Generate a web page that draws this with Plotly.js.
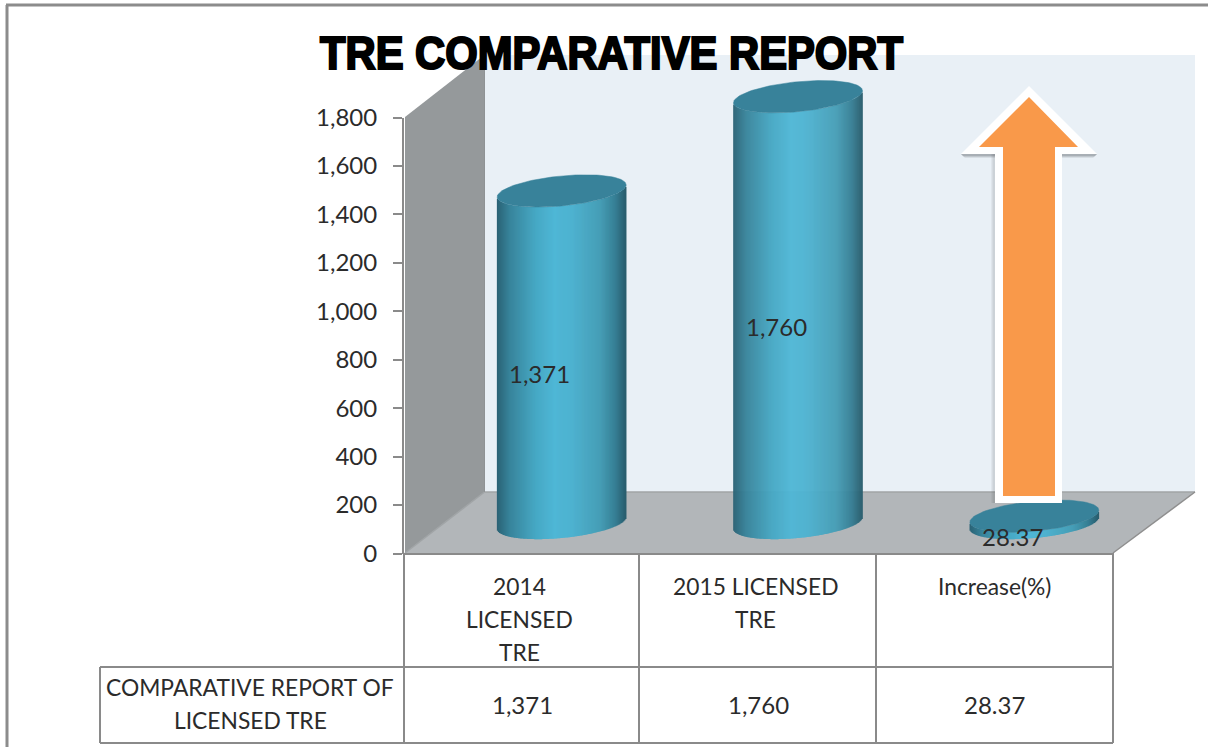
<!DOCTYPE html>
<html>
<head>
<meta charset="utf-8">
<script src="https://cdn.plot.ly/plotly-3.0.1.min.js"></script>
<style>html,body{margin:0;padding:0;background:#fff;overflow:hidden}#chart{width:1208px;height:747px}</style>
</head>
<body>
<div id="chart"></div>
<script>
// ---- data ----
const categories = ["2014 LICENSED TRE", "2015 LICENSED TRE", "Increase(%)"];
const categoryLines = [["2014", "LICENSED", "TRE"], ["2015 LICENSED", "TRE"], ["Increase(%)"]];
const values = [1371, 1760, 28.37];
const valueLabels = ["1,371", "1,760", "28.37"];
const rowHeaderLines = ["COMPARATIVE REPORT OF", "LICENSED TRE"];
const yTicks = [0, 200, 400, 600, 800, 1000, 1200, 1400, 1600, 1800];
const chartTitle = "TRE COMPARATIVE REPORT";

// ---- page geometry (decoration in pixels) ----
const W = 1208, H = 747;
const fx = x => x / W, fy = y => 1 - y / H;
const path = pts => "M" + pts.map(p => fx(p[0]) + "," + fy(p[1])).join("L") + "Z";
const poly = (pts, fill, extra) => Object.assign({
  type: "path", xref: "paper", yref: "paper", path: path(pts), fillcolor: fill,
  line: {width: 0}, layer: "below"}, extra || {});
const seg = (x0, y0, x1, y1, c, w, layer) => ({
  type: "line", xref: "paper", yref: "paper", x0: fx(x0), y0: fy(y0), x1: fx(x1), y1: fy(y1),
  line: {color: c || "#8a8a8a", width: w || 2}, layer: layer || "below"});

const X0 = 404, X1 = 1113, Y0 = 553.5, Y1 = 117.5;
const pxPerUnit = (Y0 - Y1) / 1800;
const depthX = 39.5, baseY = 523;
const barWidthPx = 129, colPx = (X1 - X0) / 3;
const barW = barWidthPx / colPx;
const rangeLow = -110, rangeHigh = 1910;

// ---- cylinders ----
const stops = [[0,[42,98,116]],[.1,[56,132,155]],[.3,[70,168,196]],[.45,[79,183,214]],[.58,[78,178,208]],[.8,[70,158,182]],[.92,[54,126,148]],[1,[40,92,108]]];
function shade(t){
  for (let i = 1; i < stops.length; i++) if (t <= stops[i][0]) {
    const a = stops[i-1], b = stops[i], k = (t-a[0])/(b[0]-a[0]);
    return "rgb(" + a[1].map((v,j)=>Math.round(v+(b[1][j]-v)*k)).join(",") + ")";
  }
  return "rgb(40,92,108)";
}
const tilt = 6, semi = 15;
const arc = u => (tilt*u - semi*Math.sqrt(Math.max(0,1-u*u))) / pxPerUnit;
const traces = [];
values.forEach((v, i) => {
  const n = barWidthPx, xs = [], base = [], ys = [], cols = [];
  for (let k = 0; k < n; k++) {
    const t = (k + .5) / n, u = 2*t - 1;
    xs.push(i + .5 + u*barW/2); base.push(arc(u)); ys.push(v); cols.push(shade(t));
  }
  traces.push({type: "bar", xaxis: "x2", yaxis: "y2", x: xs, base: base, y: ys,
    width: 1.6/colPx, marker: {color: cols, line: {width: 0}},
    name: categories[i], showlegend: false, hoverinfo: "skip"});
  const ex = [], ey = [];
  for (let k = 0; k <= 120; k++) {
    const a = k/120*2*Math.PI;
    ex.push(i + .5 + Math.cos(a)*barW/2);
    ey.push(v + (tilt*Math.cos(a) + semi*Math.sin(a))/pxPerUnit);
  }
  traces.push({type: "scatter", mode: "lines", xaxis: "x2", yaxis: "y2", x: ex, y: ey,
    fill: "toself", fillcolor: "#38829a", line: {width: 0.5, color: "#38829a"},
    showlegend: false, hoverinfo: "skip"});
});
// an invisible series keeps the front axes live
traces.unshift({type: "scatter", mode: "markers", x: [.5,1.5,2.5], y: values, xaxis: "x", yaxis: "y",
  marker: {opacity: 0}, showlegend: false, hoverinfo: "skip"});

// ---- walls, floor, table, arrow ----
const shapes = [
  poly([[484.5,55],[1195,55],[1195,492],[484.5,492]], "#e9f0f6"),
  poly([[405,117],[484.5,55],[484.5,492],[405,553]], "#95999b"),
  poly([[484.5,492],[1195,492],[1113,553],[405,553]], "#b2b6b9"),
  seg(484.5,492,1195,492,"#a0a4a6",1.5),
  seg(405,553,484.5,492,"#a0a4a6",1.5),
  seg(1113,553,1195,492,"#8f8f8f",1.5),
  seg(484.5,55,484.5,492,"#8f9395",1),
  // outer frame
  seg(7,5,7,747,"#8c8c8c",3),
  seg(6,5,1208,5,"#8c8c8c",3),
  // table
  seg(404,554,1113,554),
  seg(404,553,404,743), seg(639,553,639,743), seg(876,553,876,743), seg(1113,553,1113,743),
  seg(100,667,1113,667), seg(100,743,1113,743), seg(100,667,100,743),
];
const arrowOuter = [[1029,86],[1097,154],[1062,154],[1062,503],[995,503],[995,154],[961,154]];
const arrowInner = [[1029,97],[1078,147],[1055,147],[1055,496],[1003,496],[1003,147],[979,147]];
[[4,.10],[3,.14],[2,.18]].forEach(s => {
  const d = s[0];
  shapes.push(poly([[961,154],[995,154],[995,154+d],[961+d,154+d]], "rgba(60,65,70,"+s[1]+")", {layer:"above"}));
  shapes.push(poly([[1062,154],[1097,154],[1097-d,154+d],[1062,154+d]], "rgba(60,65,70,"+s[1]+")", {layer:"above"}));
  shapes.push(poly([[995-d,154],[995,154],[995,503],[995-d,503]], "rgba(60,65,70,.06)", {layer:"above"}));
});
shapes.push(poly(arrowOuter, "#ffffff", {layer:"above"}));
shapes.push(poly(arrowInner, "#f9994a", {layer:"above"}));

// ---- text ----
const fam = "Lato, 'Open Sans', sans-serif";
const txtFont = {family: fam, size: 22.8, color: "#2b2b2b"};
const numFont = {family: fam, size: 24, color: "#2b2b2b"};
const annotations = [];
categoryLines.forEach((lines, i) => lines.forEach((ln, j) => annotations.push({
  xref: "x", yref: "paper", x: i + .5, y: fy(586 + j*33), text: ln, showarrow: false, font: txtFont,
  xanchor: "center", yanchor: "middle", xshift: i < 2 ? -3 : 0})));
valueLabels.forEach((t, i) => {
  annotations.push({xref: "x", yref: "paper", x: i + .5, y: fy(704), text: t, showarrow: false,
    font: numFont, xanchor: "center", yanchor: "middle"});
  annotations.push({xref: "x", yref: "y", x: i + .5, y: values[i]/2, text: t, showarrow: false,
    font: numFont, xanchor: "center", yanchor: "middle", xshift: 17.5, yshift: 14});
});
rowHeaderLines.forEach((t, j) => annotations.push({
  xref: "paper", yref: "paper", x: fx(250), y: fy(687 + j*33), text: t, showarrow: false,
  font: txtFont, xanchor: "center", yanchor: "middle"}));

const layout = {
  width: W, height: H, margin: {l: 0, r: 0, t: 0, b: 0},
  paper_bgcolor: "#ffffff", plot_bgcolor: "rgba(0,0,0,0)", showlegend: false, barmode: "overlay",
  title: {text: chartTitle, x: 611.5/W, xanchor: "center", y: fy(53), yanchor: "middle", yref: "container",
    font: {family: "'Liberation Sans','DejaVu Sans',sans-serif", size: 47, weight: 700, color: "#000"}},
  xaxis: {domain: [X0/W, X1/W], range: [0,3], anchor: "y", showgrid: false, zeroline: false, showline: false,
    showticklabels: false, ticks: "", fixedrange: true},
  yaxis: {domain: [fy(Y0), fy(Y1)], range: [0,1800], anchor: "x", tickvals: yTicks, tickformat: ",d",
    showgrid: false, zeroline: false, showline: true, linecolor: "#8a8a8a", linewidth: 2,
    ticks: "outside", ticklen: 9, tickcolor: "#8a8a8a", tickwidth: 2, tickfont: numFont,
    ticklabelstandoff: 11, fixedrange: true},
  xaxis2: {domain: [(X0+depthX)/W, (X1+depthX)/W], range: [0,3], anchor: "y2", visible: false, fixedrange: true},
  yaxis2: {domain: [fy(baseY - rangeLow*pxPerUnit), fy(baseY - rangeHigh*pxPerUnit)], range: [rangeLow, rangeHigh],
    anchor: "x2", visible: false, fixedrange: true},
  shapes: shapes, annotations: annotations
};
Plotly.newPlot("chart", traces, layout, {staticPlot: true, displayModeBar: false}).then(() => {
  // squeeze the heavy title to the condensed width of the original
  const t = document.querySelector(".gtitle");
  if (t) {
    t.setAttribute("textLength", "583");
    t.setAttribute("lengthAdjust", "spacingAndGlyphs");
    t.style.stroke = "#000";
    t.style.strokeWidth = "2.2px";
    t.style.paintOrder = "stroke";
  }
});
</script>
</body>
</html>
